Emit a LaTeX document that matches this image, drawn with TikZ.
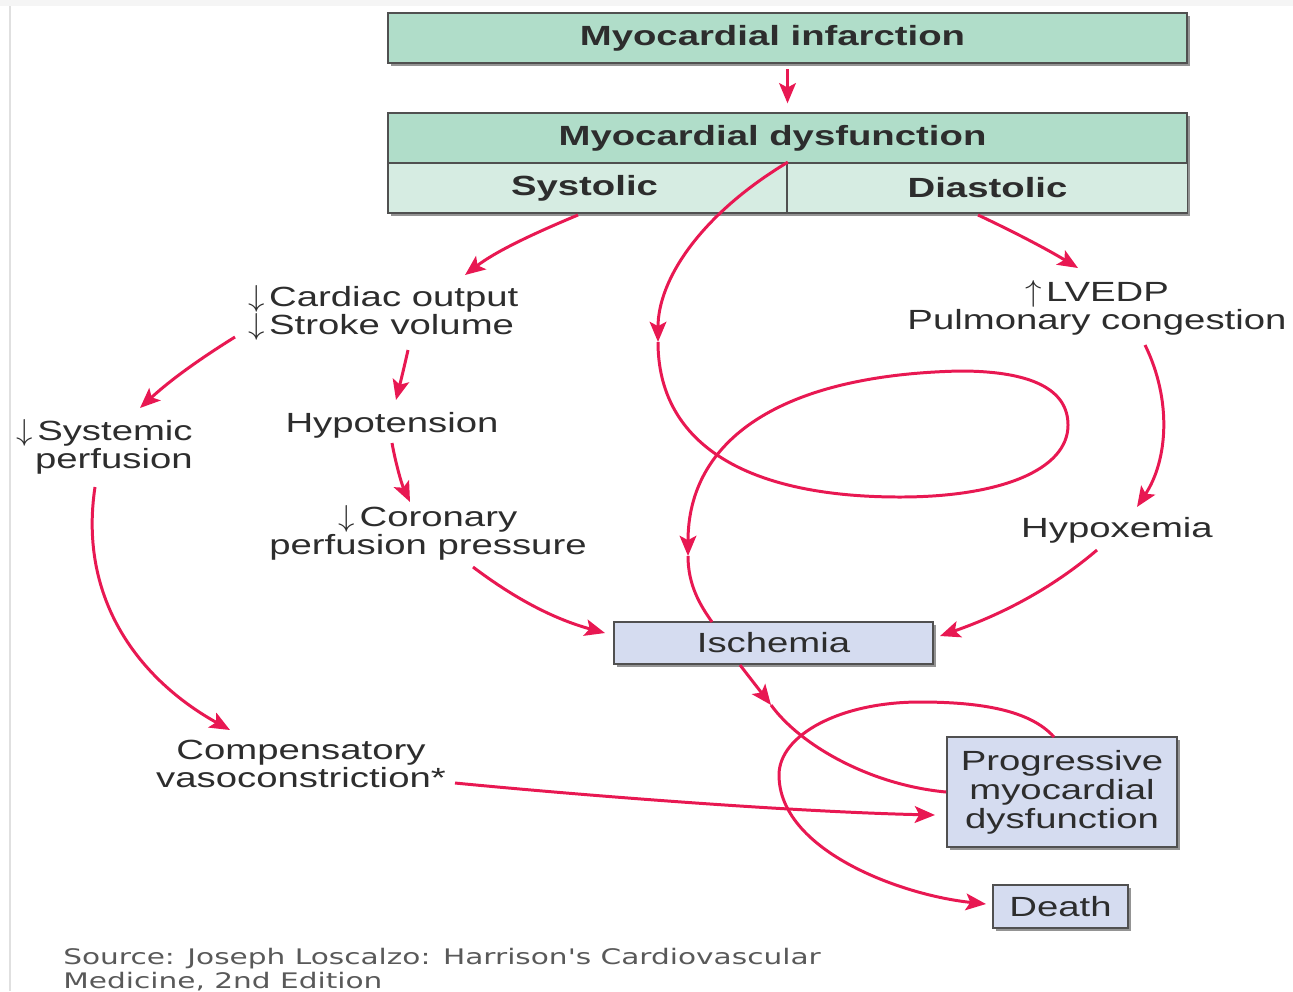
\documentclass[tikz,border=0pt]{standalone}
\usepackage{graphicx}
\usepackage{fontspec}
\setmainfont{Liberation Sans}[FakeStretch=1.38]
\newfontfamily\srcfont{DejaVu Sans}[FakeStretch=1.38]
\usetikzlibrary{arrows.meta,shadows}
\definecolor{pk}{RGB}{232,24,82}
\definecolor{txt}{RGB}{45,45,45}
\definecolor{bordc}{RGB}{80,80,80}
\definecolor{gA}{RGB}{176,221,201}
\definecolor{gB}{RGB}{214,236,226}
\definecolor{lav}{RGB}{213,220,240}
\newcommand{\dnar}{\scalebox{1.3}[1.2]{$\downarrow$}\kern2.5pt}
\newcommand{\upar}{\scalebox{1.3}[1.2]{$\uparrow$}\kern2.5pt}
\begin{document}
\begin{tikzpicture}[x=0.02cm,y=-0.02cm,
  box/.style={draw=bordc,line width=1pt,inner sep=0pt,text=txt,
     drop shadow={shadow xshift=1.6pt,shadow yshift=-1.6pt,fill=black!70,opacity=0.6}},
  lbl/.style={inner sep=0pt,text=txt,font=\fontsize{15.8pt}{15.9pt}\selectfont},
  bt/.style={font=\fontsize{15.8pt}{15.9pt}\selectfont\bfseries},
  arr/.style={draw=pk,line width=1.7pt,-{Stealth[length=11.5pt,width=9.5pt,inset=2.5pt]}},
  ln/.style={draw=pk,line width=1.7pt}]
\useasboundingbox (0,0) rectangle (1293,991);
\fill[black!4] (0,0) rectangle (1293,6);
\draw[black!12,line width=0.6pt] (10,6) -- (10,991);

% boxes
\node[box,fill=gA,minimum width=15.98cm,minimum height=1cm,bt] (mi) at (787.5,38) {Myocardial infarction\hspace*{0.6cm}};
\node[box,fill=gA,minimum width=15.98cm,minimum height=1cm,bt] (md) at (787.5,138) {Myocardial dysfunction\hspace*{0.6cm}};
\node[box,fill=gB,minimum width=7.98cm,minimum height=1cm,bt] (sys) at (587.5,188) {Systolic\hspace*{0.12cm}};
\node[box,fill=gB,minimum width=8cm,minimum height=1cm,bt] (dia) at (987.5,188) {Diastolic};
\node[box,fill=lav,minimum width=6.38cm,minimum height=0.84cm,font=\fontsize{15.8pt}{15.9pt}\selectfont] (isc) at (773.5,643) {Ischemia};
\node[box,fill=lav,minimum width=4.6cm,minimum height=2.2cm,align=center,font=\fontsize{15.8pt}{16.4pt}\selectfont] (prog) at (1062,792) {Progressive\\myocardial\\dysfunction};
\node[box,fill=lav,minimum width=2.7cm,minimum height=0.86cm,font=\fontsize{15.8pt}{15.9pt}\selectfont] (death) at (1060.5,906.5) {Death};

% text labels
\node[lbl,align=left,anchor=west] (card) at (248,313) {\dnar Cardiac output\\\dnar Stroke volume};
\node[lbl,anchor=base] (hypo) at (392,432) {Hypotension};
\node[lbl,align=center] (coro) at (428,533) {\dnar Coronary\\perfusion pressure};
\node[lbl,align=right,anchor=east] (syst) at (193,447) {\dnar Systemic\\perfusion};
\node[lbl,align=center] (lv) at (1097,308) {\upar LVEDP\\Pulmonary congestion};
\node[lbl,anchor=base] (hypox) at (1117,537) {Hypoxemia};
\node[lbl,align=center] (comp) at (301,764) {Compensatory\\vasoconstriction*};
\node[inner sep=0pt,anchor=base west,align=left,text=black!65,font=\srcfont\fontsize{12.2pt}{13.6pt}\selectfont] (src) at (63,988) {Source: Joseph Loscalzo: Harrison's Cardiovascular\\Medicine, 2nd Edition};

% connector coordinates
\coordinate (s2) at (578,215);  \coordinate (e2) at (465,275);
\coordinate (s3) at (978,215);  \coordinate (e3) at (1078,268);
\coordinate (s4) at (235,337);  \coordinate (e4) at (140,408);
\coordinate (s5) at (408,350);  \coordinate (e5) at (396,400);
\coordinate (s6) at (392,443);  \coordinate (e6) at (410,502);
\coordinate (s7) at (95,487);   \coordinate (e7) at (230,730);
\coordinate (s8) at (473,567);  \coordinate (e8) at (605,633);
\coordinate (s9) at (1145,345); \coordinate (e9) at (1137,507);
\coordinate (s10) at (1097,550); \coordinate (e10) at (940,636);
\coordinate (a1) at (658,342);  \coordinate (a2) at (688,556);
\coordinate (iscT) at (712,622);
\coordinate (iscB) at (740,665); \coordinate (b1) at (771,705);
\coordinate (s13) at (455,783); \coordinate (e13) at (935,815);
\coordinate (progT) at (1054,737); \coordinate (e14) at (986,904);

% connectors
\draw[arr,shorten <=3pt,shorten >=5pt] (mi.south) -- (md.north);
\draw[arr] (s2) .. controls (530,235) and (495,252) .. (e2);
\draw[arr] (s3) .. controls (1010,230) and (1045,248) .. (e3);
\draw[arr] (s4) .. controls (190,365) and (165,385) .. (e4);
\draw[arr] (s5) .. controls (404,368) and (400,384) .. (e5);
\draw[arr] (s6) .. controls (396,465) and (402,485) .. (e6);
\draw[arr] (s7) .. controls (78,600) and (140,680) .. (e7);
\draw[arr] (s8) .. controls (510,595) and (550,618) .. (e8);
\draw[arr] (s9) .. controls (1172,400) and (1168,460) .. (e9);
\draw[arr] (s10) .. controls (1050,590) and (1000,615) .. (e10);
% big loop
\draw[arr] (sys.north east) .. controls (700,215) and (658,280) .. (a1);
\draw[arr] (a1) .. controls (658,440) and (740,497) .. (900,497)
   .. controls (1000,497) and (1068,470) .. (1068,425)
   .. controls (1068,380) and (1010,371) .. (960,371)
   .. controls (780,375) and (688,440) .. (a2);
\draw[ln] (a2) .. controls (688,585) and (700,605) .. (iscT);
% ischemia to progressive
\draw[arr] (iscB) -- (b1);
\draw[ln] (b1) .. controls (800,745) and (870,785) .. (prog.west);
% compensatory
\draw[arr] (s13) .. controls (600,797) and (800,812) .. (e13);
% progressive loop to death
\draw[arr] (progT) .. controls (1030,710) and (980,702) .. (920,702)
   .. controls (840,702) and (779,735) .. (779,775)
   .. controls (779,850) and (900,895) .. (e14);
\end{tikzpicture}
\end{document}
